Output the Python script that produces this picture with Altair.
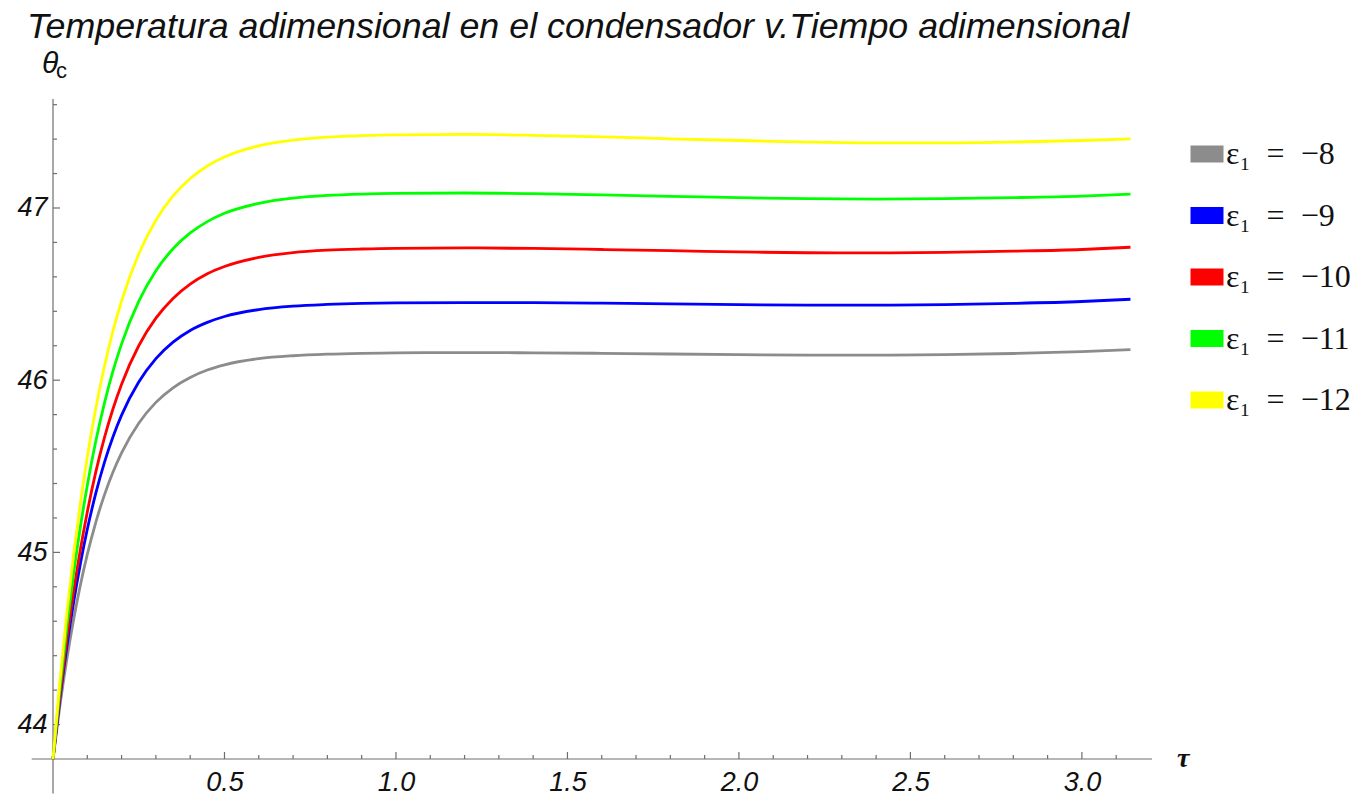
import altair as alt
import pandas as pd

# Dimensionless time values where the condenser temperature was sampled
tau = [0.0, 0.02, 0.04, 0.06, 0.08, 0.10, 0.125, 0.15, 0.175, 0.2,
       0.25, 0.3, 0.35, 0.4, 0.45, 0.5, 0.6, 0.7, 0.8, 0.9,
       1.0, 1.2, 1.4, 1.6, 1.8, 2.0, 2.2, 2.4, 2.6, 2.8,
       3.0, 3.1416]

# Dimensionless condenser temperature for each epsilon_1 value
theta_m8 = [43.800, 44.108, 44.376, 44.609, 44.812, 44.988, 45.176, 45.334, 45.467, 45.578,
            45.750, 45.871, 45.956, 46.016, 46.059, 46.089, 46.125, 46.142, 46.151, 46.156,
            46.159, 46.160, 46.159, 46.156, 46.152, 46.148, 46.145, 46.145, 46.148, 46.155,
            46.166, 46.178]
theta_m9 = [43.800, 44.146, 44.447, 44.709, 44.936, 45.134, 45.345, 45.523, 45.672, 45.797,
            45.989, 46.125, 46.221, 46.289, 46.336, 46.370, 46.410, 46.430, 46.440, 46.446,
            46.449, 46.451, 46.450, 46.447, 46.443, 46.439, 46.436, 46.436, 46.439, 46.446,
            46.457, 46.470]
theta_m10 = [43.800, 44.167, 44.489, 44.771, 45.018, 45.235, 45.469, 45.666, 45.834, 45.977,
             46.200, 46.360, 46.475, 46.558, 46.618, 46.660, 46.713, 46.741, 46.755, 46.762,
             46.766, 46.768, 46.765, 46.759, 46.752, 46.745, 46.740, 46.739, 46.742, 46.749,
             46.759, 46.772]
theta_m11 = [43.800, 44.207, 44.563, 44.876, 45.150, 45.389, 45.648, 45.867, 46.054, 46.211,
             46.458, 46.636, 46.763, 46.855, 46.921, 46.969, 47.027, 47.057, 47.073, 47.081,
             47.085, 47.087, 47.083, 47.076, 47.068, 47.060, 47.054, 47.052, 47.054, 47.060,
             47.069, 47.080]
theta_m12 = [43.800, 44.249, 44.642, 44.987, 45.289, 45.554, 45.839, 46.081, 46.287, 46.460,
             46.733, 46.929, 47.070, 47.171, 47.244, 47.296, 47.361, 47.394, 47.411, 47.420,
             47.425, 47.427, 47.422, 47.413, 47.402, 47.392, 47.383, 47.378, 47.378, 47.383,
             47.392, 47.402]

series_labels = ["ε\u2081\u2002=\u2002\u22128", "ε\u2081\u2002=\u2002\u22129",
                 "ε\u2081\u2002=\u2002\u221210", "ε\u2081\u2002=\u2002\u221211",
                 "ε\u2081\u2002=\u2002\u221212"]
series_values = [theta_m8, theta_m9, theta_m10, theta_m11, theta_m12]
series_colors = ["#8c8c8c", "#0000ff", "#ff0000", "#00ff00", "#ffff00"]

# Axis ticks
x_major = [0.5, 1.0, 1.5, 2.0, 2.5, 3.0]
x_minor = [0.1, 0.2, 0.3, 0.4, 0.6, 0.7, 0.8, 0.9, 1.1, 1.2, 1.3, 1.4, 1.6, 1.7,
           1.8, 1.9, 2.1, 2.2, 2.3, 2.4, 2.6, 2.7, 2.8, 2.9, 3.1]
y_major = [44, 45, 46, 47]
y_minor = [44.2, 44.4, 44.6, 44.8, 45.2, 45.4, 45.6, 45.8, 46.2, 46.4, 46.6,
           46.8, 47.2, 47.4, 47.6]

TITLE = "Temperatura adimensional en el condensador v.Tiempo adimensional"

X_MIN, X_MAX = 0.0, 3.2044
Y_MIN, Y_MAX = 43.8, 47.633
W, H = 1099, 660

rows = []
for label, vals in zip(series_labels, series_values):
    for t, v in zip(tau, vals):
        rows.append({"tau": t, "theta": v, "serie": label})
df = pd.DataFrame(rows)

xs = alt.Scale(domain=[X_MIN, X_MAX], nice=False, zero=False)
ys = alt.Scale(domain=[Y_MIN, Y_MAX], nice=False, zero=False)

LABEL_FONT = "Liberation Sans"
TEXT_COLOR = "#111111"
AXIS_COLOR = "#6e6e6e"

lines = alt.Chart(df).mark_line(strokeWidth=2.8, interpolate="monotone").encode(
    x=alt.X("tau:Q", scale=xs,
            axis=alt.Axis(values=x_major, format=".1f", ticks=False, tickSize=0,
                          domain=False, grid=False, title=None,
                          labelFont=LABEL_FONT, labelFontStyle="italic",
                          labelFontSize=27, labelColor=TEXT_COLOR,
                          labelPadding=10, labelFlush=False)),
    y=alt.Y("theta:Q", scale=ys,
            axis=alt.Axis(values=y_major, format="d", ticks=False, tickSize=0,
                          domain=False, grid=False, title=None,
                          labelFont=LABEL_FONT, labelFontStyle="italic",
                          labelFontSize=27, labelColor=TEXT_COLOR,
                          labelPadding=6, labelFlush=False)),
    color=alt.Color("serie:N",
                    scale=alt.Scale(domain=series_labels, range=series_colors),
                    legend=alt.Legend(title=None, orient="none",
                                      legendX=1137, legendY=38,
                                      symbolType="M-2,0H2", symbolSize=272,
                                      symbolStrokeWidth=17,
                                      labelFont="Liberation Serif",
                                      labelFontSize=32, labelColor=TEXT_COLOR,
                                      labelOffset=2, rowPadding=-6.5)),
    detail="serie:N",
)

x_axis_line = alt.Chart().mark_rule(color=AXIS_COLOR, strokeWidth=1.2).encode(
    x=alt.datum(-0.062, scale=xs), x2=alt.datum(X_MAX), y=alt.datum(Y_MIN, scale=ys))
y_axis_line = alt.Chart().mark_rule(color=AXIS_COLOR, strokeWidth=1.2).encode(
    x=alt.datum(X_MIN, scale=xs), y=alt.datum(43.6, scale=ys), y2=alt.datum(Y_MAX))

xt_major = alt.Chart(pd.DataFrame({"t": x_major})).mark_rule(
    color=AXIS_COLOR, strokeWidth=1.2).encode(
    x=alt.X("t:Q", scale=xs), y=alt.value(H), y2=alt.value(H - 7))
xt_minor = alt.Chart(pd.DataFrame({"t": x_minor})).mark_rule(
    color=AXIS_COLOR, strokeWidth=1.2).encode(
    x=alt.X("t:Q", scale=xs), y=alt.value(H), y2=alt.value(H - 4))
yt_major = alt.Chart(pd.DataFrame({"v": y_major})).mark_rule(
    color=AXIS_COLOR, strokeWidth=1.2).encode(
    y=alt.Y("v:Q", scale=ys), x=alt.value(0), x2=alt.value(7))
yt_minor = alt.Chart(pd.DataFrame({"v": y_minor})).mark_rule(
    color=AXIS_COLOR, strokeWidth=1.2).encode(
    y=alt.Y("v:Q", scale=ys), x=alt.value(0), x2=alt.value(4))

title_text = alt.Chart().mark_text(
    text=TITLE, font=LABEL_FONT, fontStyle="italic", fontSize=35.8,
    align="left", baseline="alphabetic", color=TEXT_COLOR).encode(
    x=alt.value(-26), y=alt.value(-61))
theta_label = alt.Chart().mark_text(
    text="θ", font=LABEL_FONT, fontStyle="italic", fontSize=30,
    align="left", baseline="alphabetic", color=TEXT_COLOR).encode(
    x=alt.value(-11), y=alt.value(-26))
theta_sub = alt.Chart().mark_text(
    text="c", font=LABEL_FONT, fontSize=22,
    align="left", baseline="alphabetic", color=TEXT_COLOR).encode(
    x=alt.value(3), y=alt.value(-21))
tau_label = alt.Chart().mark_text(
    text="τ", font="Liberation Serif", fontStyle="italic", fontWeight="bold",
    fontSize=28, align="left", baseline="alphabetic", color=TEXT_COLOR).encode(
    x=alt.value(1124), y=alt.value(H + 8))

chart = alt.layer(
    x_axis_line, y_axis_line, xt_major, xt_minor, yt_major, yt_minor,
    lines, title_text, theta_label, theta_sub, tau_label,
).properties(
    width=W, height=H,
    autosize=alt.AutoSizeParams(type="none"),
    padding={"left": 53, "top": 99, "right": 218, "bottom": 36},
).configure_view(stroke=None)

chart.save("out.html", embed_options={"renderer": "svg", "actions": False})
